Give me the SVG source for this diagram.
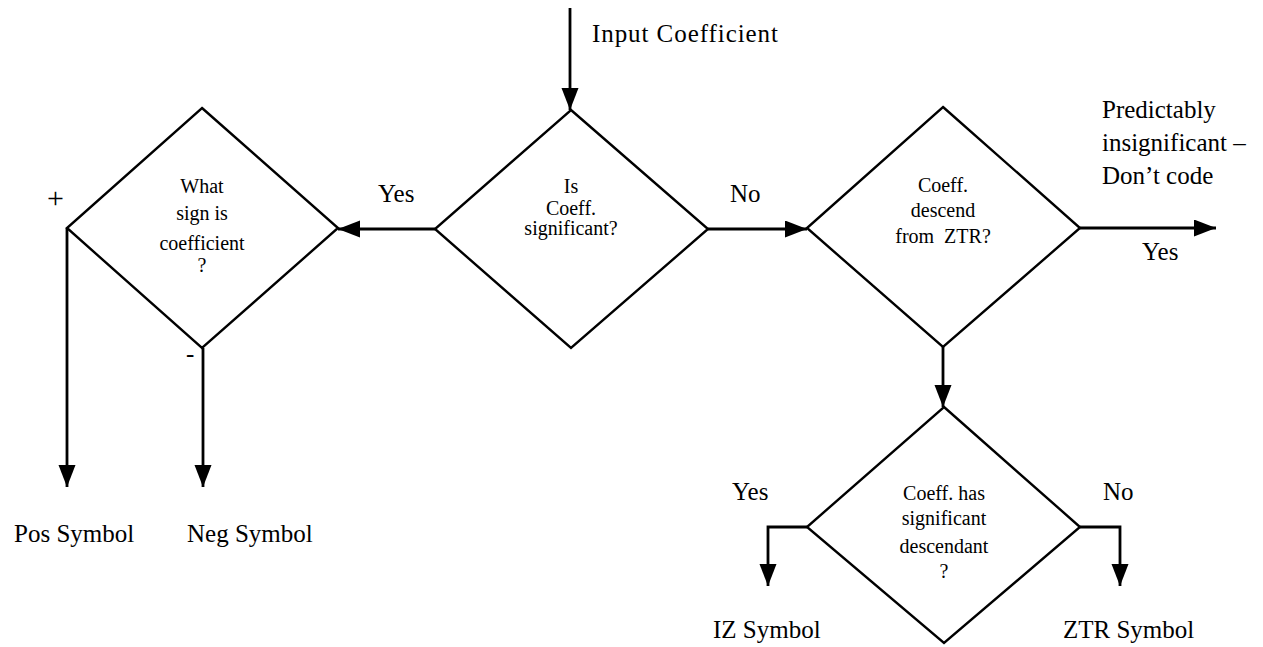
<svg xmlns="http://www.w3.org/2000/svg" width="1263" height="647" viewBox="0 0 1263 647">
<style>
.d{fill:none;stroke:#000;stroke-width:2.4;stroke-linejoin:miter}
.c{fill:none;stroke:#000;stroke-width:2.8}
.l{font-family:"Liberation Serif","Times New Roman",serif;font-size:25px;fill:#000}
.t{font-family:"Liberation Serif","Times New Roman",serif;font-size:20px;fill:#000;text-anchor:middle}
</style>
<defs>
<marker id="ah" markerUnits="userSpaceOnUse" markerWidth="24" markerHeight="18" refX="22" refY="8.5" orient="auto">
<path d="M0,0 L22,8.5 L0,17 Z" fill="#000"/>
</marker>
</defs>
<rect width="1263" height="647" fill="#fff"/>
<g id="connectors">
<path class="c" d="M570,8 L570,110" marker-end="url(#ah)"/>
<path class="c" d="M435,229 L338,229" marker-end="url(#ah)"/>
<path class="c" d="M708,229 L807,229" marker-end="url(#ah)"/>
<path class="c" d="M1080,228 L1216,228" marker-end="url(#ah)"/>
<path class="c" d="M943,347 L943,407" marker-end="url(#ah)"/>
<path class="c" d="M67,228 L67,487" marker-end="url(#ah)"/>
<path class="c" d="M203,348 L203,487" marker-end="url(#ah)"/>
<path class="c" d="M807,527 L768,527 L768,586" marker-end="url(#ah)"/>
<path class="c" d="M1080,527 L1120,527 L1120,586" marker-end="url(#ah)"/>
</g>
<g id="sign">
<polygon class="d" points="202,108 338,228 202,348 67,228"/>
<text class="t" x="202" y="193">What</text>
<text class="t" x="202" y="220">sign is</text>
<text class="t" x="202" y="250">coefficient</text>
<text class="t" x="202" y="272">?</text>
</g>
<g id="significant">
<polygon class="d" points="571,110 708,229 571,348 435,229"/>
<text class="t" x="571" y="193">Is</text>
<text class="t" x="571" y="215">Coeff.</text>
<text class="t" x="571" y="235">significant?</text>
</g>
<g id="descend">
<polygon class="d" points="943,107 1080,228 943,347 807,228"/>
<text class="t" x="943" y="192">Coeff.</text>
<text class="t" x="943" y="217">descend</text>
<text class="t" x="943" y="243" xml:space="preserve">from  ZTR?</text>
</g>
<g id="descendant">
<polygon class="d" points="944,407 1080,527 944,643 807,527"/>
<text class="t" x="944" y="500">Coeff. has</text>
<text class="t" x="944" y="525">significant</text>
<text class="t" x="944" y="553">descendant</text>
<text class="t" x="944" y="578">?</text>
</g>
<g id="labels">
<text class="l" x="592" y="42" textLength="186">Input Coefficient</text>
<text class="l" x="378" y="202">Yes</text>
<text class="l" x="730" y="202">No</text>
<text class="l" x="1102" y="118">Predictably</text>
<text class="l" x="1102" y="151">insignificant –</text>
<text class="l" x="1102" y="184">Don’t code</text>
<text class="l" x="1142" y="260">Yes</text>
<text class="l" x="47" y="208" style="font-size:30px">+</text>
<text class="l" x="186" y="362">-</text>
<text class="l" x="14" y="542">Pos Symbol</text>
<text class="l" x="187" y="542">Neg Symbol</text>
<text class="l" x="732" y="500">Yes</text>
<text class="l" x="1103" y="500">No</text>
<text class="l" x="713" y="638">IZ Symbol</text>
<text class="l" x="1063" y="638">ZTR Symbol</text>
</g>
</svg>
